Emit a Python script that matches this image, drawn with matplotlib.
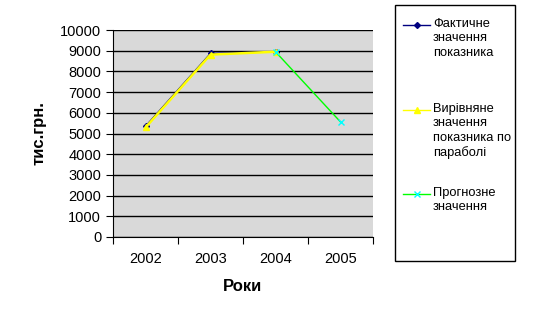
import numpy as np
import matplotlib.pyplot as plt
from matplotlib.lines import Line2D
from matplotlib.patches import Rectangle

plt.rcParams['font.family'] = ['Liberation Sans', 'DejaVu Sans']

years = ['2002', '2003', '2004', '2005']
actual = [5350, 8870, 8950]
fitted = [5290, 8810, 8950]
forecast_years = [2, 3]
forecast = [8950, 5560]

labels = [
    'Фактичне\nзначення\nпоказника',
    'Вирівняне\nзначення\nпоказника по\nпараболі',
    'Прогнозне\nзначення',
]

W, H = 559, 326
fig = plt.figure(figsize=(W / 100, H / 100), dpi=100)
ax = fig.add_axes([113 / W, 1 - 237 / H, 260 / W, 207 / H])
ax.set_facecolor('#d9d9d9')

x = np.arange(len(years))
ax.plot(x[:3], actual, color='#000080', marker='D', markersize=3, lw=1, zorder=3)
ax.plot(x[:3], fitted, color='#ffff00', marker='^', markersize=5, lw=1.8, zorder=4)
ax.plot(forecast_years, forecast, color='#00ff00', marker='x', markersize=5,
        markeredgecolor='#00ffff', lw=1, zorder=5)

ax.set_ylim(0, 10000)
ax.set_yticks(np.arange(0, 10001, 1000))
ax.yaxis.grid(True, color='black', lw=1)
ax.set_axisbelow(True)
ax.set_xlim(-0.5, 3.5)
ax.set_xticks(np.arange(-0.5, 4, 1))
ax.set_xticklabels([])
ax.set_xticks(x, minor=True)
ax.set_xticklabels(years, minor=True)
ax.tick_params(axis='x', which='minor', length=0, pad=11, labelsize=10.5)
ax.tick_params(axis='x', which='major', length=5, direction='out', color='black')
ax.tick_params(axis='y', length=5, direction='out', labelsize=10.5)
for s in ['top', 'right']:
    ax.spines[s].set_visible(False)

ax.set_xlabel('Роки', fontsize=12, fontweight='bold', labelpad=9)
ax.set_ylabel('тис.грн.', fontsize=12, fontweight='bold', labelpad=10)

# legend drawn by hand so each marker sits on the first text line
fig.patches.append(Rectangle((395 / W, 1 - 261 / H), 120 / W, 256 / H,
                             transform=fig.transFigure, fill=False,
                             edgecolor='black', lw=1))
styles = [
    dict(color='#000080', marker='D', markersize=3),
    dict(color='#ffff00', marker='^', markersize=5),
    dict(color='#00ff00', marker='x', markersize=5, markeredgecolor='#00ffff'),
]
entry_y = [25, 110, 194]
for lab, st, yy in zip(labels, styles, entry_y):
    fy = 1 - yy / H
    fig.lines.append(Line2D([403 / W, 430 / W], [fy, fy], transform=fig.transFigure, lw=1,
                            color=st['color']))
    fig.lines.append(Line2D([416.5 / W], [fy], transform=fig.transFigure, lw=0, **st))
    fig.text(433 / W, fy + 7 / H, lab, fontsize=9.3, va='top', ha='left', linespacing=1.25)

fig.savefig('out.png', dpi=100)
